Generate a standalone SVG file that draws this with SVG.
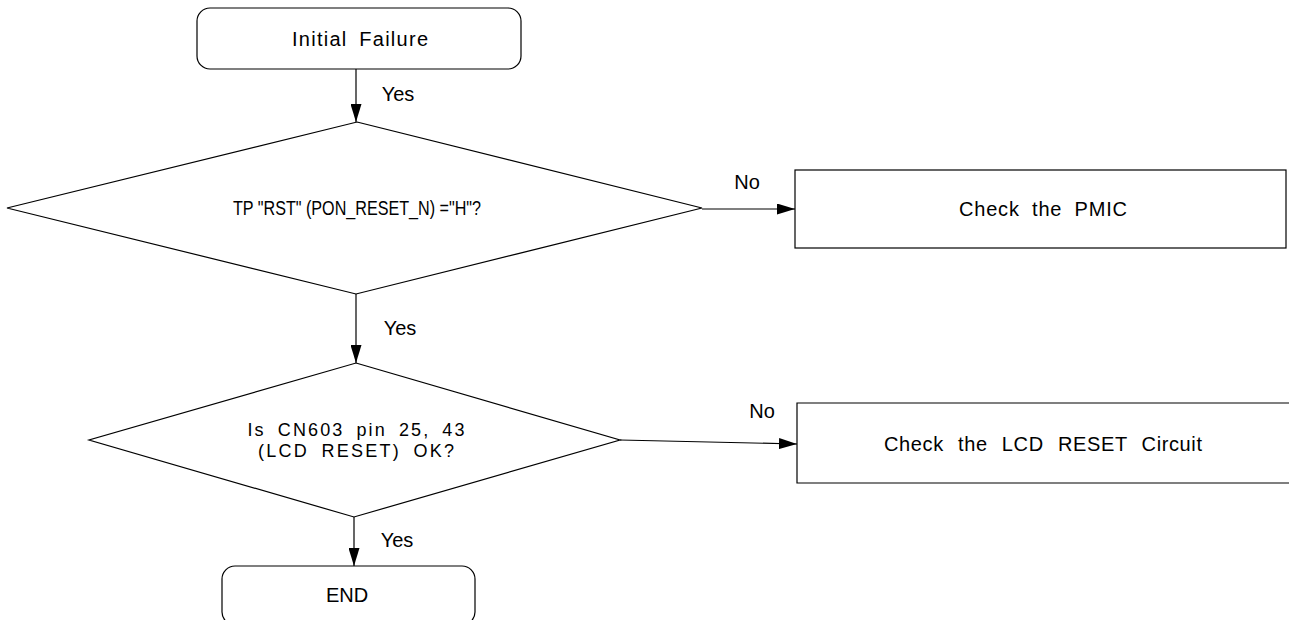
<svg xmlns="http://www.w3.org/2000/svg" width="1289" height="620" viewBox="0 0 1289 620">
<style>
.s{fill:#fff;stroke:#000;stroke-width:1.2}
.t{font-family:"Liberation Sans",Arial,sans-serif;font-size:20px;fill:#000;text-anchor:middle}
.m{font-size:18px}
.c{fill:none;stroke:#000;stroke-width:1.2}
</style>
<defs>
<marker id="a" markerWidth="18" markerHeight="11" refX="18" refY="5.5" orient="auto" markerUnits="userSpaceOnUse">
<path d="M0,0 L18,5.5 L0,11 Z" fill="#000"/>
</marker>
</defs>
<rect width="1289" height="620" fill="#fff"/>
<g id="start">
<rect class="s" x="197" y="8" width="324" height="61" rx="13"/>
<text class="t" x="360" y="46" textLength="136" word-spacing="5">Initial Failure</text>
</g>
<g id="d1">
<polygon class="s" points="357,122 702,208 356,294 7,208"/>
<text class="t" x="357" y="215" textLength="248" lengthAdjust="spacingAndGlyphs">TP "RST" (PON_RESET_N) ="H"?</text>
</g>
<g id="pmic">
<rect class="s" x="795" y="170" width="491" height="78"/>
<text class="t" x="1043" y="216" textLength="168" word-spacing="6">Check the PMIC</text>
</g>
<g id="d2">
<polygon class="s" points="356,363 620,440 354,517 89,440"/>
<text class="t m" x="356" y="436" textLength="217" word-spacing="5">Is CN603 pin 25, 43</text>
<text class="t m" x="356" y="457" textLength="196" word-spacing="5">(LCD RESET) OK?</text>
</g>
<g id="lcd">
<path class="s" d="M1289,403 H797 V483 H1289"/>
<text class="t" x="1043" y="451" textLength="318" word-spacing="8">Check the LCD RESET Circuit</text>
</g>
<g id="end">
<rect class="s" x="222" y="566" width="253" height="59" rx="13"/>
<text class="t" x="347" y="602">END</text>
</g>
<g id="connectors">
<line class="c" x1="356" y1="69" x2="356" y2="122" marker-end="url(#a)"/>
<line class="c" x1="702" y1="209" x2="795" y2="209" marker-end="url(#a)"/>
<line class="c" x1="356" y1="294" x2="356" y2="363" marker-end="url(#a)"/>
<line class="c" x1="620" y1="440" x2="797" y2="444" marker-end="url(#a)"/>
<line class="c" x1="354" y1="517" x2="354" y2="566" marker-end="url(#a)"/>
<text class="t" x="398" y="101">Yes</text>
<text class="t" x="747" y="189">No</text>
<text class="t" x="400" y="335">Yes</text>
<text class="t" x="762" y="418">No</text>
<text class="t" x="397" y="547">Yes</text>
</g>
</svg>
